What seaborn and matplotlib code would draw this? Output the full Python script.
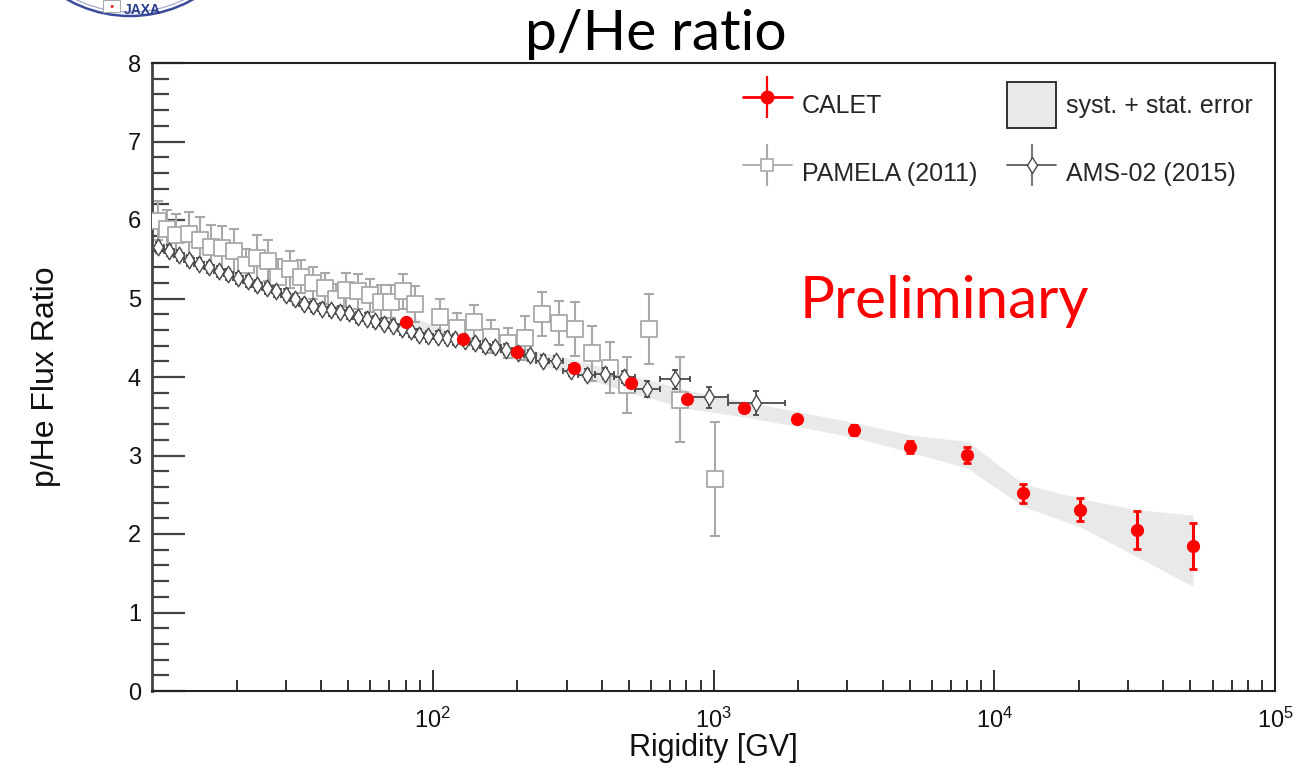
import numpy as np
import pandas as pd
import matplotlib
matplotlib.use("Agg")
import matplotlib.pyplot as plt
import seaborn as sns
from matplotlib.lines import Line2D
from matplotlib.patches import Patch, Ellipse, Rectangle
from matplotlib.ticker import MultipleLocator, LogLocator, FixedLocator, NullFormatter
from matplotlib.legend_handler import HandlerTuple

# ---------------- data ----------------
calet_R = [80.2, 128, 200, 318, 507, 807, 1280, 1990, 3177, 5026, 8017, 12680, 20230, 32300, 51050]
calet_ratio = [4.70, 4.48, 4.32, 4.11, 3.92, 3.72, 3.605, 3.465, 3.325, 3.11, 3.006, 2.52, 2.31, 2.05, 1.85]
calet_err = [0.04, 0.04, 0.04, 0.04, 0.05, 0.05, 0.05, 0.05, 0.06, 0.076, 0.10, 0.12, 0.15, 0.24, 0.29]
band_low = [4.58, 4.41, 4.24, 4.03, 3.80, 3.60, 3.49, 3.37, 3.23, 3.04, 2.84, 2.35, 2.09, 1.71, 1.33]
band_high = [4.79, 4.53, 4.39, 4.22, 4.03, 3.83, 3.69, 3.56, 3.42, 3.26, 3.18, 2.64, 2.45, 2.31, 2.24]

pamela_R = [10.5, 11.3, 12.2, 13.5, 14.8, 16.2, 17.8, 19.6, 21.6, 23.6, 25.9, 28.2, 31.0, 34.0,
            37.4, 41.3, 45.3, 49.1, 54.3, 59.6, 65.5, 71.1, 78.4, 86.2, 106, 122, 140, 161,
            185, 213, 245, 281, 322, 370, 427, 491, 588, 757, 1016]
pamela_ratio = [5.99, 5.88, 5.81, 5.82, 5.75, 5.66, 5.64, 5.61, 5.43, 5.51, 5.48, 5.28, 5.37, 5.28,
                5.20, 5.13, 5.00, 5.11, 5.09, 5.04, 4.95, 4.96, 5.09, 4.93, 4.77, 4.62, 4.70, 4.51,
                4.43, 4.50, 4.80, 4.69, 4.61, 4.30, 4.12, 3.90, 4.61, 3.71, 2.70]
pamela_err = [0.25, 0.25, 0.27, 0.28, 0.29, 0.27, 0.28, 0.28, 0.20, 0.30, 0.26, 0.22, 0.23, 0.21,
              0.20, 0.20, 0.19, 0.22, 0.22, 0.21, 0.22, 0.21, 0.22, 0.23, 0.22, 0.20, 0.22, 0.21,
              0.19, 0.28, 0.28, 0.28, 0.34, 0.35, 0.33, 0.36, 0.45, 0.54, 0.73]

ams_edges = [10.1, 11.0, 12.0, 13.0, 14.1, 15.3, 16.6, 18.0, 19.5, 21.1, 22.8, 24.7, 26.7, 28.8,
             31.1, 33.5, 36.1, 38.9, 41.9, 45.1, 48.5, 52.2, 56.1, 60.3, 64.8, 69.7, 74.9, 80.5,
             86.5, 93.0, 100, 108, 116, 125, 135, 147, 160, 175, 192, 211, 233, 259, 291, 330,
             379, 441, 525, 643, 822, 1130, 1800]
ams_R = [10.5, 11.5, 12.5, 13.5, 14.7, 15.9, 17.3, 18.7, 20.3, 21.9, 23.7, 25.7, 27.7, 29.9,
         32.3, 34.8, 37.5, 40.4, 43.5, 46.8, 50.3, 54.1, 58.2, 62.5, 67.2, 72.3, 77.7, 83.5,
         89.7, 96.5, 104, 112, 120, 130, 141, 153, 167, 183, 201, 222, 246, 275, 310, 354,
         410, 481, 581, 727, 963, 1415]
ams_ratio = [5.65, 5.61, 5.55, 5.49, 5.44, 5.40, 5.35, 5.31, 5.26, 5.22, 5.17, 5.13, 5.09, 5.05,
             4.99, 4.93, 4.90, 4.87, 4.85, 4.83, 4.81, 4.76, 4.74, 4.71, 4.68, 4.65, 4.61, 4.58,
             4.54, 4.52, 4.51, 4.50, 4.48, 4.46, 4.43, 4.39, 4.38, 4.35, 4.31, 4.28, 4.21, 4.20,
             4.08, 4.03, 4.04, 4.00, 3.85, 3.97, 3.74, 3.67]
ams_err = [0.07] * 45 + [0.08, 0.10, 0.12, 0.13, 0.155]

x_ticks = [1e2, 1e3, 1e4, 1e5]
x_tick_labels = ["$10^{2}$", "$10^{3}$", "$10^{4}$", "$10^{5}$"]

# ---------------- style ----------------
sns.set_theme(style="white")
plt.rcParams['font.family'] = ['Liberation Sans', 'DejaVu Sans']
plt.rcParams['mathtext.fontset'] = 'custom'
plt.rcParams['mathtext.rm'] = 'Liberation Sans'
plt.rcParams['mathtext.it'] = 'Liberation Sans'

W, H = 1298, 770
fig = plt.figure(figsize=(W / 100, H / 100), dpi=100)
ax = fig.add_axes([152 / W, 1 - 691 / H, (1275 - 152) / W, (691 - 63) / H])

df_cal = pd.DataFrame({"R": calet_R, "ratio": calet_ratio, "err": calet_err,
                       "lo": band_low, "hi": band_high})
df_pam = pd.DataFrame({"R": pamela_R, "ratio": pamela_ratio, "err": pamela_err})
df_ams = pd.DataFrame({"R": ams_R, "ratio": ams_ratio, "err": ams_err})
edges = np.array(ams_edges)
df_ams["xlo"] = df_ams["R"] - edges[:-1]
df_ams["xhi"] = edges[1:] - df_ams["R"]

band_col = "#e9e9e9"
pam_col = "#a8a8a8"
ams_col = "#4a4a4a"
red = "#ff0000"

ax.fill_between(df_cal["R"], df_cal["lo"], df_cal["hi"], color=band_col, lw=0, zorder=1)

# PAMELA
ax.errorbar(df_pam["R"], df_pam["ratio"], yerr=df_pam["err"], fmt="none",
            ecolor=pam_col, elinewidth=1.5, capsize=3.5, capthick=1.5, zorder=2)
sns.scatterplot(data=df_pam, x="R", y="ratio", marker="s", s=11 ** 2, color="white",
                edgecolor=pam_col, linewidth=1.3, ax=ax, zorder=3, legend=False)

# AMS-02
ax.errorbar(df_ams["R"], df_ams["ratio"], yerr=df_ams["err"],
            xerr=[df_ams["xlo"], df_ams["xhi"]], fmt="none",
            ecolor=ams_col, elinewidth=1.3, capsize=2.5, capthick=1.3, zorder=4)
sns.scatterplot(data=df_ams, x="R", y="ratio", marker="d", s=8.5 ** 2, color="white",
                edgecolor=ams_col, linewidth=1.0, ax=ax, zorder=5, legend=False)

# CALET
ax.errorbar(df_cal["R"], df_cal["ratio"], yerr=df_cal["err"], fmt="none",
            ecolor=red, elinewidth=2.2, capsize=3, capthick=2.0, zorder=6)
sns.scatterplot(data=df_cal, x="R", y="ratio", marker="o", s=9.5 ** 2, color=red,
                edgecolor=red, linewidth=0, ax=ax, zorder=7, legend=False)

# ---------------- axes ----------------
ax.set_xscale("log")
ax.set_xlim(10, 1e5)
ax.set_ylim(0, 8)
ax.xaxis.set_major_locator(FixedLocator(x_ticks))
ax.set_xticklabels(x_tick_labels)
ax.xaxis.set_minor_locator(LogLocator(base=10, subs=np.arange(2, 10)))
ax.xaxis.set_minor_formatter(NullFormatter())
ax.yaxis.set_major_locator(MultipleLocator(1))
ax.yaxis.set_minor_locator(MultipleLocator(0.2))

tick_col = "#444444"
ax.tick_params(axis="y", which="major", direction="in", length=24, width=1.6,
               color=tick_col, labelsize=17, pad=8, left=True, right=False,
               labelcolor="#111111")
ax.tick_params(axis="y", which="minor", direction="in", length=12, width=1.6,
               color=tick_col, left=True, right=False)
ax.tick_params(axis="x", which="major", direction="in", length=15, width=1.3,
               color="#222222", labelsize=17, pad=12, bottom=True, top=False,
               labelcolor="#111111")
ax.tick_params(axis="x", which="minor", direction="in", length=8, width=1.3,
               color="#222222", bottom=True, top=False)
for side, sp in ax.spines.items():
    sp.set_visible(True)
    sp.set_color("#222222")
    sp.set_linewidth(1.5)
ax.spines["left"].set_color(tick_col)
ax.spines["left"].set_linewidth(2.0)

ax.set_xlabel("Rigidity [GV]", fontsize=22, labelpad=0, color="#111111")
ax.set_ylabel("p/He Flux Ratio", fontsize=23, labelpad=48, color="#111111")
ax.grid(False)

# Title and Preliminary
fig.text(656 / W, 1 - 50 / H, "p/He ratio", ha="center", va="baseline",
         fontsize=41, family=["Lato", "DejaVu Sans"], color="black")
ax.text((800 - 152) / (1275 - 152), (691 - 318) / (691 - 63), "Preliminary",
        transform=ax.transAxes, ha="left", va="baseline", fontsize=42,
        family=["Lato", "DejaVu Sans"], color=red)

# ---------------- legend ----------------
h_cal = (Line2D([], [], color=red, lw=2.0),
         Line2D([], [], color=red, marker="o", ms=9, ls="none"),
         Line2D([], [], color=red, marker="|", ms=30, mew=1.6, ls="none"))
h_pam = (Line2D([], [], color=pam_col, lw=1.3),
         Line2D([], [], color=pam_col, marker="|", ms=30, mew=1.5, ls="none"),
         Line2D([], [], color=pam_col, marker="s", ms=8, mfc="white", mew=1.2, ls="none"))
h_ams = (Line2D([], [], color=ams_col, lw=1.2),
         Line2D([], [], color="#777777", marker="|", ms=30, mew=1.5, ls="none"),
         Line2D([], [], color=ams_col, marker="d", ms=8, mfc="white", mew=1.0, ls="none"))
h_band = Patch(facecolor=band_col, edgecolor="#222222", lw=1.3)

leg = ax.legend([h_cal, h_pam, h_band, h_ams],
                ["CALET", "PAMELA (2011)", "syst. + stat. error", "AMS-02 (2015)"],
                handler_map={tuple: HandlerTuple(ndivide=1)},
                ncol=2, frameon=False, fontsize=18, loc="upper left",
                bbox_to_anchor=(743 / W, 1 - 82 / H), bbox_transform=fig.transFigure,
                handlelength=1.95, handleheight=2.45, handletextpad=0.4,
                columnspacing=1.2, labelspacing=0.88, borderaxespad=0, borderpad=0)

# ---------------- JAXA logo (partial, clipped at top) ----------------
fig.add_artist(Ellipse((130 / W, 1 + 112 / H), 2 * 128 / W, 2 * 128 / H,
                       transform=fig.transFigure, facecolor="white",
                       edgecolor="#3b4b9b", lw=1.8, zorder=10))
fig.add_artist(Ellipse((130 / W, 1 + 112 / H), 2 * 124 / W, 2 * 124 / H,
                       transform=fig.transFigure, facecolor="none",
                       edgecolor="#9aa3c8", lw=0.8, zorder=10))
fig.add_artist(Rectangle((103 / W, 1 - 12 / H), 17 / W, 12 / H, transform=fig.transFigure,
                         facecolor="white", edgecolor="#aaaaaa", lw=0.8, zorder=11))
fig.text(111.5 / W, 1 - 6 / H, "●", color="#e02020", fontsize=5, ha="center",
         va="center", zorder=12)
fig.text(124 / W, 1 - 14 / H, "JAXA", color="#2a3a8a", fontsize=10, fontweight="bold",
         ha="left", va="baseline", zorder=12)

fig.savefig("out.png", dpi=100)
